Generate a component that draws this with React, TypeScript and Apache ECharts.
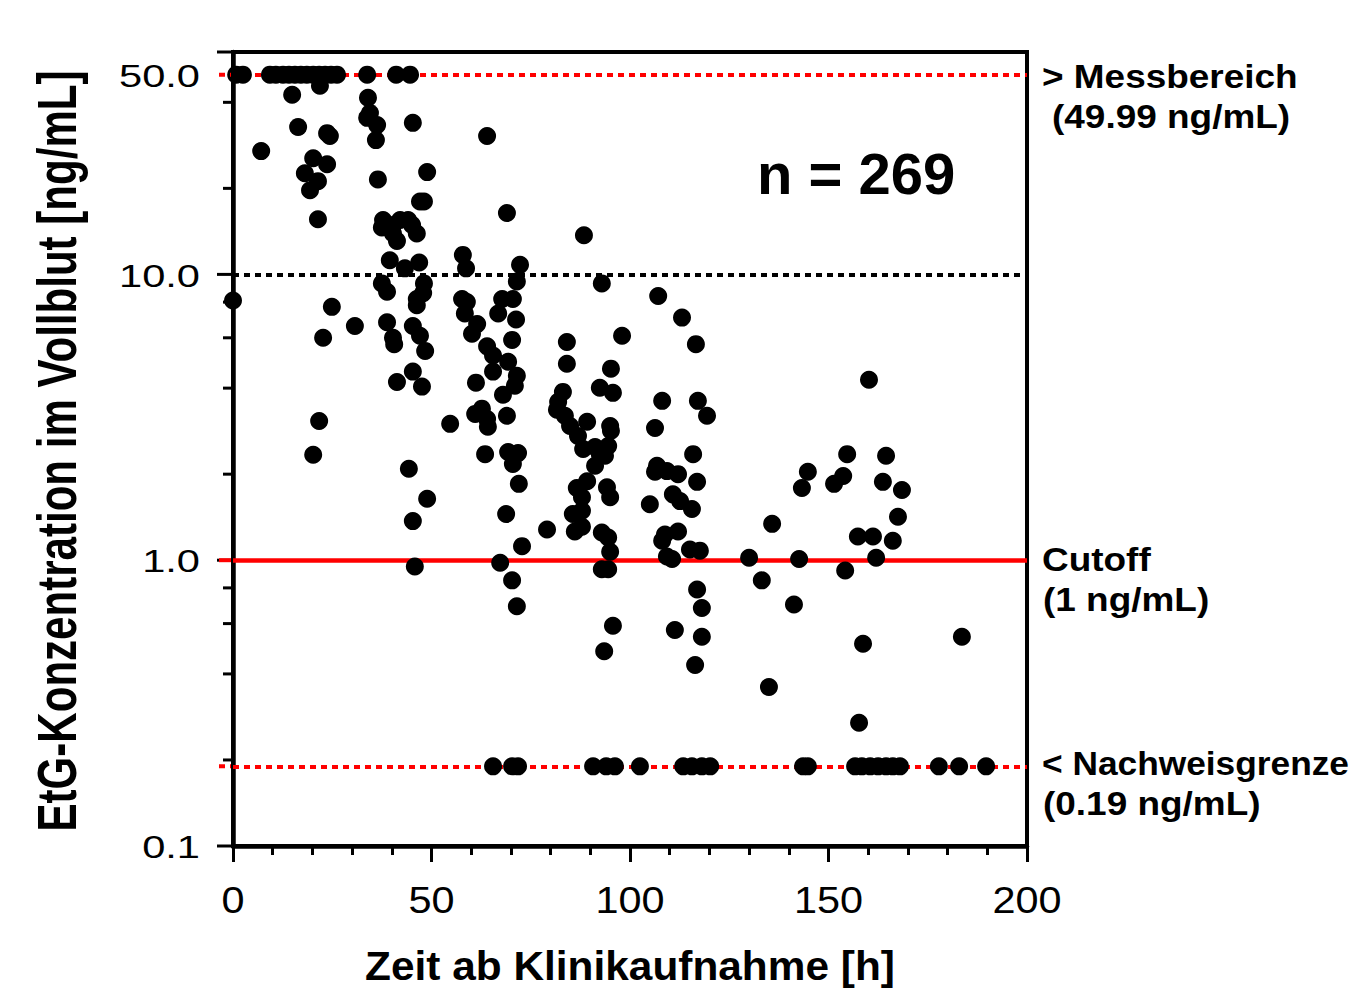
import React, { useEffect, useRef } from "react";
import * as echarts from "echarts";

// ---- axis ranges & ticks ----
const X_MIN = 0;
const X_MAX = 200;
const X_INTERVAL = 50;
const xTickLabelValues = [0, 50, 100, 150, 200];
const Y_MIN = 0.1;
const Y_MAX = 60;
const yTickLabelValues = [0.1, 1, 10, 50];
const yMajorTicks = [0.1, 1, 10, 60];
const yMinorTicks = [0.2, 0.4, 0.6, 0.8, 2, 4, 6, 8, 20, 40];

const xTitle = "Zeit ab Klinikaufnahme [h]";
const yTitle = "EtG-Konzentration im Vollblut [ng/mL]";

// ---- reference levels ----
const upperLimit = 50; // > Messbereich (49.99 ng/mL)
const decadeLine = 10;
const cutoff = 1;
const lod = 0.19; // < Nachweisgrenze (0.19 ng/mL)

// ---- data: samples above measuring range (plotted at 50) ----
const aboveRangeTimes = [0.8, 2.5, 9.3, 10.8, 12.6, 14.1, 15.6, 17.1, 18.6, 20.2, 21.7, 23.2, 24.7, 26.2, 33.8, 41.1, 44.6];

// ---- data: samples below limit of detection (plotted at 0.19) ----
const belowLodTimes = [65.5, 70.3, 71.8, 90.7, 94.0, 96.2, 102.5, 113.4, 115.6, 118.1, 120.2, 143.6, 144.8, 156.7, 158.4, 160.5, 162.5, 164.5, 166.2, 168.0, 177.8, 182.9, 189.7];

// ---- data: measured samples ----
const measuredTimes = [
  21.9, 14.9, 34.0, 34.5, 33.8, 36.3, 36.0, 45.3, 64.0, 16.4,
  23.7, 24.4, 7.1, 20.2, 23.7, 18.1, 21.4, 19.4, 36.5, 48.9,
  47.1, 48.1, 21.4, 37.8, 37.5, 40.3, 42.1, 44.1, 45.1, 40.3,
  41.3, 46.3, 39.5, 43.3, 46.9, 57.9, 58.7, 37.5, 48.1, 69.0,
  0.0, 38.8, 47.9, 46.3, 46.3, 57.7, 58.9, 58.4, 61.5, 60.2,
  24.9, 30.7, 22.7, 38.8, 40.3, 40.6, 45.3, 47.1, 48.4, 45.3,
  47.6, 41.3, 64.0, 65.5, 65.5, 61.2, 61.0, 62.7, 64.0, 64.2,
  54.7, 21.7, 20.2, 63.5, 44.3, 48.9, 45.3, 45.8, 72.3, 71.5,
  88.4, 92.9, 107.1, 67.8, 70.5, 66.8, 71.3, 113.1, 98.0, 116.6,
  70.3, 84.1, 69.3, 71.5, 71.0, 68.0, 84.1, 95.2, 92.4, 95.7,
  83.1, 81.9, 81.6, 83.6, 84.9, 86.9, 88.2, 89.2, 108.1, 117.1,
  119.4, 69.0, 95.0, 95.2, 106.3, 69.3, 71.8, 70.5, 91.2, 92.4,
  94.5, 93.7, 91.2, 115.9, 106.8, 106.3, 109.3, 112.1, 116.9, 72.0,
  89.2, 86.6, 87.9, 94.2, 95.0, 105.0, 110.8, 112.6, 115.6, 68.8,
  85.6, 87.9, 79.1, 86.1, 87.9, 92.9, 94.5, 95.0, 108.8, 112.1,
  108.1, 72.8, 109.3, 110.6, 115.1, 117.6, 67.3, 92.9, 94.5, 130.0,
  70.3, 71.5, 116.9, 118.1, 95.7, 111.3, 118.1, 93.5, 116.4, 160.2,
  154.7, 164.5, 144.8, 143.3, 153.7, 151.4, 163.7, 168.5, 167.5, 135.8,
  157.4, 161.2, 166.2, 142.6, 162.0, 154.2, 133.2, 141.3, 158.7, 183.6,
  135.0, 157.7,
];
const measuredValues = [
  45.7, 42.5, 41.5, 36.7, 35.3, 33.3, 29.5, 33.9, 30.5, 32.8,
  31.2, 30.5, 27.0, 25.5, 24.3, 22.6, 21.2, 19.7, 21.5, 22.8,
  18.0, 18.0, 15.6, 15.5, 14.6, 14.9, 15.5, 15.5, 14.9, 13.9,
  13.1, 13.9, 11.2, 10.5, 11.0, 11.7, 10.5, 9.3, 9.3, 16.4,
  8.1, 8.7, 8.6, 8.2, 7.8, 8.2, 8.0, 7.3, 6.7, 6.2,
  7.7, 6.6, 6.0, 6.8, 6.0, 5.7, 6.6, 6.1, 5.4, 4.57,
  4.05, 4.2, 5.6, 5.2, 4.57, 4.18, 3.25, 3.39, 3.12, 2.93,
  3.0, 3.07, 2.34, 2.35, 2.09, 1.64, 1.37, 0.95, 10.8, 9.45,
  13.7, 9.3, 8.4, 8.2, 8.2, 7.3, 6.95, 7.06, 6.1, 5.7,
  5.9, 5.8, 4.95, 4.42, 4.08, 3.79, 4.87, 4.68, 4.01, 3.85,
  3.88, 3.58, 3.36, 3.2, 2.95, 2.72, 2.45, 3.05, 3.61, 3.61,
  3.2, 3.2, 2.95, 2.84, 2.9, 2.39, 2.37, 2.17, 2.49, 2.35,
  2.51, 2.32, 2.14, 2.35, 2.14, 2.04, 2.05, 2.0, 1.88, 1.85,
  1.89, 1.79, 1.66, 1.8, 1.66, 1.57, 1.7, 1.61, 1.51, 1.45,
  1.45, 1.49, 1.28, 1.26, 1.31, 1.25, 1.2, 1.07, 1.23, 1.26,
  1.17, 1.12, 1.03, 1.01, 1.09, 1.08, 0.98, 0.93, 0.93, 1.02,
  0.85, 0.69, 0.79, 0.68, 0.59, 0.57, 0.54, 0.48, 0.43, 4.28,
  2.35, 2.32, 2.04, 1.79, 1.97, 1.85, 1.88, 1.76, 1.42, 1.34,
  1.21, 1.21, 1.17, 1.01, 1.02, 0.92, 0.85, 0.7, 0.51, 0.54,
  0.36, 0.27,
];

const sampleCount = "n = 269";

const SANS = '"Liberation Sans", Arial, Helvetica, sans-serif';

export default function App() {
  const ref = useRef<HTMLDivElement | null>(null);

  useEffect(() => {
    if (!ref.current) return;
    const chart = echarts.init(ref.current, undefined, { renderer: "svg" });

    const dot = { color: "#000", opacity: 1 };
    const option: any = {
      animation: false,
      backgroundColor: "#ffffff",
      grid: {
        left: 233,
        top: 52,
        width: 794,
        height: 794,
        containLabel: false,
        outerBoundsMode: "none",
        show: true,
        borderColor: "#000",
        borderWidth: 4,
        backgroundColor: "transparent",
      },
      xAxis: {
        type: "value",
        min: X_MIN,
        max: X_MAX,
        interval: X_INTERVAL,
        axisLine: { show: true, onZero: false, lineStyle: { color: "#000", width: 4.5 } },
        axisTick: { show: true, length: 16, lineStyle: { color: "#000", width: 3 } },
        minorTick: { show: true, splitNumber: 5, length: 9, lineStyle: { color: "#000", width: 3 } },
        axisLabel: { show: false },
        splitLine: { show: false },
        minorSplitLine: { show: false },
      },
      yAxis: {
        type: "log",
        logBase: 10,
        min: Y_MIN,
        max: Y_MAX,
        axisLine: { show: true, onZero: false, lineStyle: { color: "#000", width: 4.5 } },
        axisTick: { show: false },
        axisLabel: { show: false },
        splitLine: { show: false },
        minorTick: { show: false },
        minorSplitLine: { show: false },
      },
      series: [
        {
          name: "Messwerte",
          type: "scatter",
          symbol: "circle",
          symbolSize: 18,
          clip: false,
          z: 3,
          itemStyle: dot,
          data: measuredTimes.map((t, i) => [t, measuredValues[i]]),
          markLine: {
            silent: true,
            z: 1,
            symbol: "none",
            label: { show: false },
            data: [
              { yAxis: upperLimit, lineStyle: { color: "#ff0000", type: [6, 5], width: 4, opacity: 1 } },
              { yAxis: decadeLine, lineStyle: { color: "#000", type: [6, 5], width: 4, opacity: 1 } },
              { yAxis: cutoff, lineStyle: { color: "#ff0000", type: "solid", width: 4.5, opacity: 1 } },
              { yAxis: lod, lineStyle: { color: "#ff0000", type: [6, 5], width: 4, opacity: 1 } },
            ],
          },
        },
        {
          name: "> Messbereich",
          type: "scatter",
          symbol: "circle",
          symbolSize: 18,
          clip: false,
          z: 3,
          itemStyle: dot,
          data: aboveRangeTimes.map((t) => [t, upperLimit]),
        },
        {
          name: "< Nachweisgrenze",
          type: "scatter",
          symbol: "circle",
          symbolSize: 18,
          clip: false,
          z: 3,
          itemStyle: dot,
          data: belowLodTimes.map((t) => [t, lod]),
        },
      ],
    };
    chart.setOption(option);

    const py = (v: number) => chart.convertToPixel({ yAxisIndex: 0 }, v) as number;
    const px = (v: number) => chart.convertToPixel({ xAxisIndex: 0 }, v) as number;
    const axisX = px(X_MIN);
    const rightX = px(X_MAX);
    const axisY = py(Y_MIN);
    const topY = py(Y_MAX);

    const txt = (
      text: string,
      x: number,
      y: number,
      size: number,
      align: string,
      opts: { bold?: boolean; scaleX?: number; rotation?: number } = {}
    ) => ({
      type: "text",
      z: 10,
      x,
      y,
      scaleX: opts.scaleX ?? 1,
      rotation: opts.rotation ?? 0,
      style: {
        text,
        fill: "#000",
        fontFamily: SANS,
        fontWeight: opts.bold ? "bold" : "normal",
        fontSize: size,
        align,
        verticalAlign: "middle",
        textAlign: align,
        textVerticalAlign: "middle",
      },
    });

    const graphics: any[] = [];
    // y ticks
    yMajorTicks.forEach((v) => {
      const y = py(v);
      graphics.push({ type: "line", z: 10, shape: { x1: axisX - 16, y1: y, x2: axisX, y2: y }, style: { stroke: "#000", lineWidth: 3 } });
    });
    yMinorTicks.forEach((v) => {
      const y = py(v);
      graphics.push({ type: "line", z: 10, shape: { x1: axisX - 10, y1: y, x2: axisX, y2: y }, style: { stroke: "#000", lineWidth: 3 } });
    });
    // y tick labels
    yTickLabelValues.forEach((v) => {
      graphics.push(txt(v.toFixed(1), axisX - 33, py(v) + 1, 32, "right", { scaleX: 1.3 }));
    });
    // x tick labels
    xTickLabelValues.forEach((v) => {
      graphics.push(txt(String(v), px(v), axisY + 54, 37, "center", { scaleX: 1.12 }));
    });
    // axis titles
    graphics.push(txt(xTitle, (axisX + rightX) / 2, axisY + 120, 40, "center", { bold: true, scaleX: 1.06 }));
    graphics.push(txt(yTitle, 57, (axisY + topY) / 2 + 2, 55, "center", { bold: true, scaleX: 0.765, rotation: Math.PI / 2 }));

    // overhang of reference lines to the left of the y axis
    [
      { v: upperLimit, c: "#ff0000", d: [6, 5] },
      { v: cutoff, c: "#ff0000", d: null },
      { v: lod, c: "#ff0000", d: [6, 5] },
    ].forEach((r) => {
      const y = py(r.v);
      graphics.push({
        type: "line",
        z: 11,
        shape: { x1: axisX - 14, y1: y, x2: axisX - 2, y2: y },
        style: { stroke: r.c, lineWidth: 4, lineDash: r.d || undefined },
      });
    });

    // right-hand annotations
    const annot = (lines: string[], v: number, dy: number, indent2: number, sx: number) => {
      const y = py(v) + dy;
      graphics.push(txt(lines[0], rightX + 15, y, 33, "left", { bold: true, scaleX: sx }));
      graphics.push(txt(lines[1], rightX + 16 + indent2, y + 40, 33, "left", { bold: true, scaleX: 1.12 }));
    };
    annot(["> Messbereich", "(49.99 ng/mL)"], upperLimit, 2, 9, 1.12);
    annot(["Cutoff", "(1 ng/mL)"], cutoff, -1, 0, 1.12);
    annot(["< Nachweisgrenze", "(0.19 ng/mL)"], lod, -3, 0, 1.07);

    graphics.push(txt(sampleCount, 757, 173, 58, "left", { bold: true }));

    chart.setOption({ graphic: graphics });

    return () => {
      chart.dispose();
    };
  }, []);

  return (
    <div
      ref={ref}
      style={{ position: "absolute", left: 0, top: 0, width: 1352, height: 988, background: "#fff" }}
    />
  );
}
